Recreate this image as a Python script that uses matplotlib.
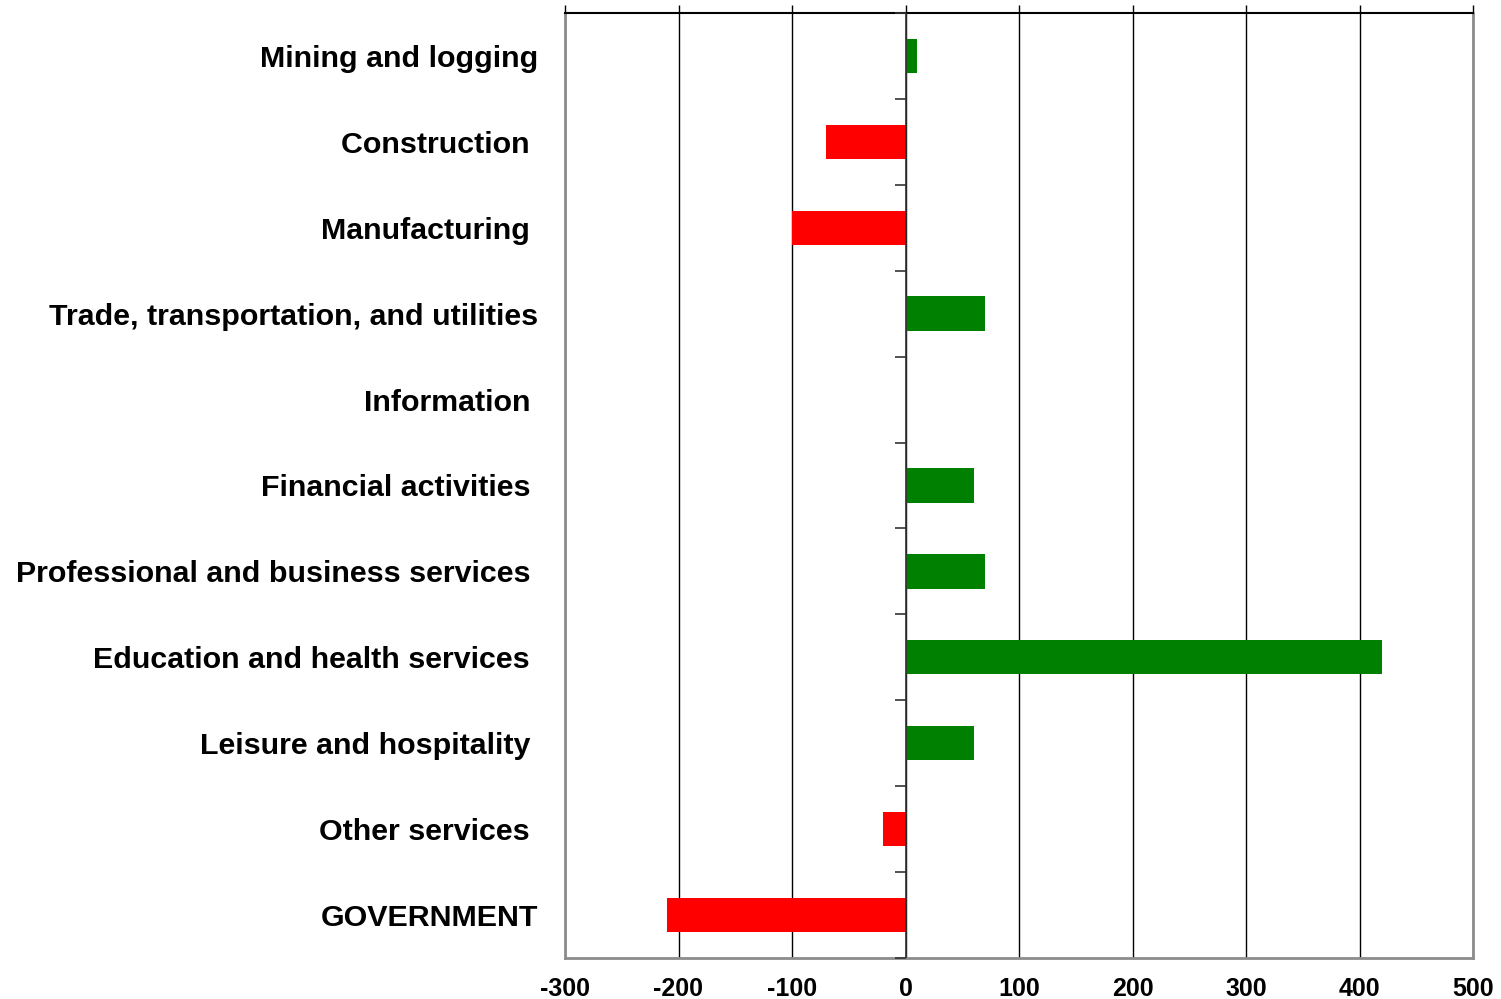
import matplotlib
matplotlib.use("Agg")
import matplotlib.pyplot as plt
import numpy as np

plt.rcParams['font.family'] = ['Liberation Sans', 'DejaVu Sans']

# sectors, top to bottom (trailing spaces as in the original labels)
sectors = ["Mining and logging", "Construction ", "Manufacturing ",
           "Trade, transportation, and utilities", "Information ",
           "Financial activities ", "Professional and business services ",
           "Education and health services ", "Leisure and hospitality ",
           "Other services ", "GOVERNMENT"]
changes = [10, -70, -100, 70, 0, 60, 70, 420, 60, -20, -210]
xticks = [-300, -200, -100, 0, 100, 200, 300, 400, 500]

fig = plt.figure(figsize=(15.01, 9.99), dpi=100)
ax = fig.add_axes([565/1501, 1-958/999, (1473-565)/1501, (958-13)/999])

y = np.arange(len(sectors))
colors = ["#008000" if v > 0 else "#ff0000" for v in changes]
ax.barh(y, changes, height=0.4, color=colors, zorder=3)

ax.set_xlim(-300, 500)
ax.set_ylim(len(sectors) - 0.5, -0.5)
ax.set_xticks(xticks)
ax.set_xticklabels([str(t) for t in xticks], fontsize=18, fontweight="bold")
ax.tick_params(axis="x", bottom=False, top=True, labelbottom=True,
               direction="out", length=6, width=1, color="black", pad=8)
ax.grid(axis="x", color="black", linewidth=1, zorder=1)

ax.set_yticks(y)
ax.set_yticklabels(sectors, fontsize=21.9, fontweight="bold")
ax.tick_params(axis="y", length=0, pad=19)

# small ticks on the zero line between categories
ax.axvline(0, color="#333333", linewidth=1.2, zorder=4)
ax.hlines(np.arange(len(sectors) + 1) - 0.5, -9, 0, color="#333333",
          linewidth=1.2, zorder=4, clip_on=False)

for side in ["left", "bottom", "right"]:
    ax.spines[side].set_color("#8c8c8c")
    ax.spines[side].set_linewidth(2)
ax.spines["top"].set_color("black")
ax.spines["top"].set_linewidth(1.5)

fig.savefig("out.png", dpi=100)
